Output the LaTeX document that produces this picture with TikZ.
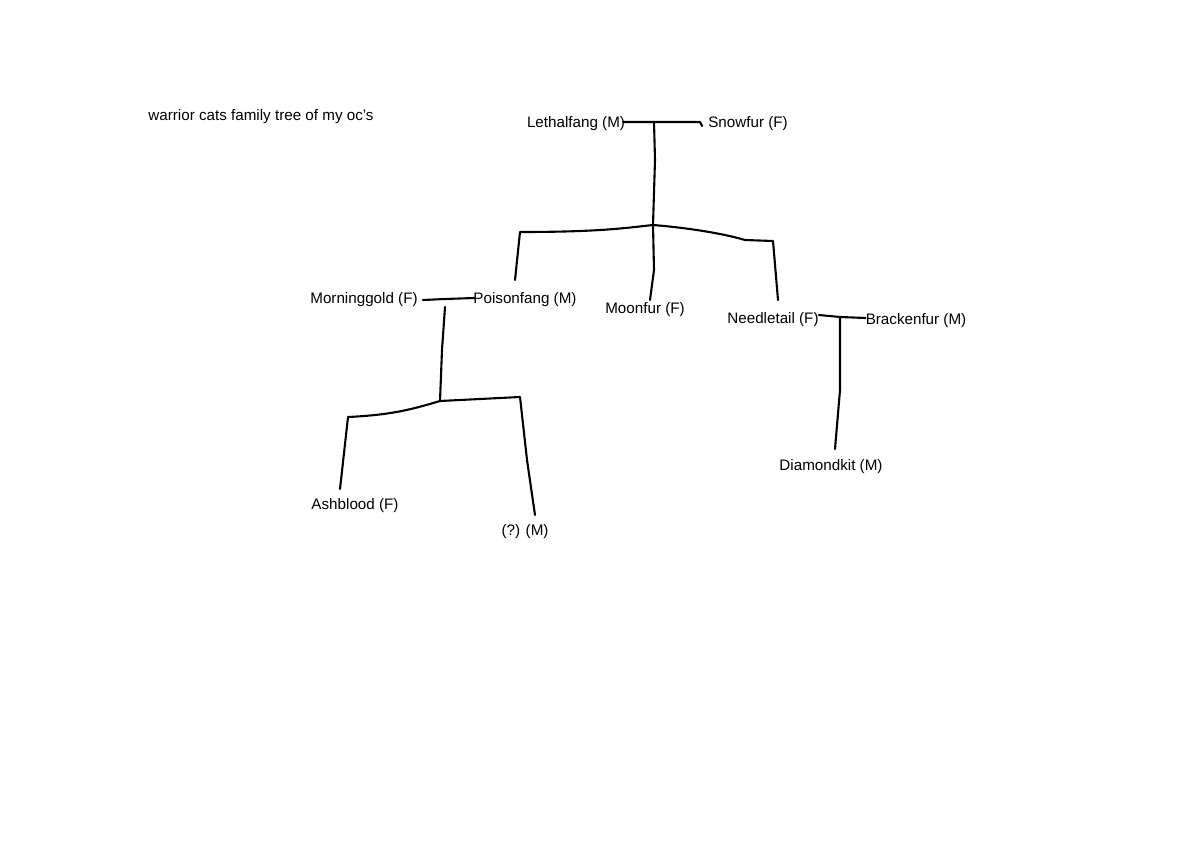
\documentclass[tikz,border=0pt]{standalone}
\usepackage{fontspec}
\setmainfont{Liberation Sans}

\begin{document}
\begin{tikzpicture}[x=1pt,y=-1pt,
  cat/.style={inner sep=0pt,font=\fontsize{15.2}{18}\selectfont},
  link/.style={line width=2.1pt,line cap=round,line join=round}]
\useasboundingbox (0,0) rectangle (1200,848);

\node[cat] (title) at (261,117) {warrior cats family tree of my oc’s};

\node[cat] (leth) at (576,124) {Lethalfang (M)};
\node[cat] (snow) at (748,124) {Snowfur (F)};
\node[cat] (morning) at (364,300) {Morninggold (F)};
\node[cat] (poison) at (525,300) {Poisonfang (M)};
\node[cat] (moon) at (645,310) {Moonfur (F)};
\node[cat] (needle) at (773,320) {Needletail (F)};
\node[cat] (bracken) at (916,321) {Brackenfur (M)};
\node[cat] (ash) at (355,506) {Ashblood (F)};
\node[cat] (unknown) at (525,532) {(?) (M)};
\node[cat] (diamond) at (831,467) {Diamondkit (M)};

% Lethalfang + Snowfur
\coordinate (top) at (654,122);
\coordinate (split) at (653,225);
\coordinate (poisonend) at (515,280);
\coordinate (moonend) at (650,300);
\coordinate (needleend) at (778,300);
\draw[link] ([xshift=-2pt,yshift=2pt]leth.east) -- (top) -- (700,122) -- ([xshift=-6pt,yshift=-2pt]snow.west);
\draw[link] (top) -- (655,160) -- (split);
\draw[link] (split) .. controls (625,228) and (600,232) .. (520,232) -- (poisonend);
\draw[link] (split) -- (654,270) -- (moonend);
\draw[link] (split) .. controls (690,228) and (725,234) .. (745,240) -- (773,241) -- (needleend);

% Morninggold + Poisonfang
\coordinate (mid) at (445,299);
\coordinate (split2) at (440,401);
\coordinate (ashend) at (340,489);
\coordinate (unknownend) at (535,515);
\draw[link] ([xshift=5pt]morning.east) -- (mid) -- ([xshift=1pt,yshift=2pt]poison.west);
\draw[link] (445,307) -- (442,350) -- (split2);
\draw[link] (split2) .. controls (410,410) and (390,415) .. (348,417) -- (ashend);
\draw[link] (split2) -- (520,397) -- (527,460) -- (unknownend);

% Needletail + Brackenfur
\coordinate (low) at (840,317);
\coordinate (diamondend) at (835,449);
\draw[link] ([yshift=5pt]needle.east) -- (low) -- ([yshift=3pt]bracken.west);
\draw[link] (low) -- (840,390) -- (diamondend);

\end{tikzpicture}
\end{document}
